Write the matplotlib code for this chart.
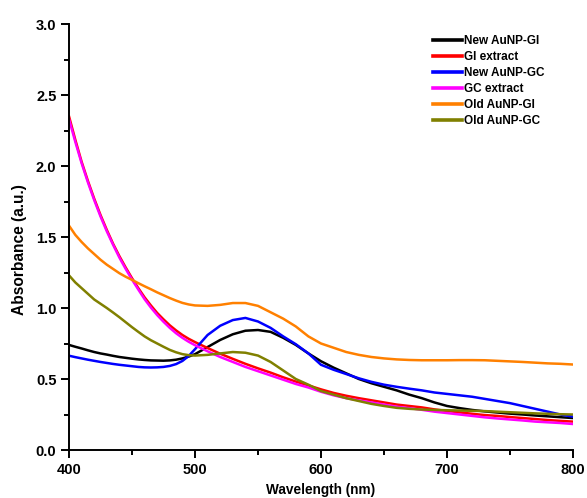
import matplotlib
matplotlib.use("Agg")
import matplotlib.pyplot as plt
from matplotlib.ticker import MultipleLocator, FormatStrFormatter

plt.rcParams['font.family'] = ['Liberation Sans', 'DejaVu Sans']
plt.rcParams['font.weight'] = 'bold'

wavelength = [400, 405, 410, 415, 420, 425, 430, 435, 440, 445,
              450, 455, 460, 465, 470, 475, 480, 485, 490, 495,
              500, 510, 520, 530, 540, 550, 560, 570, 580, 590,
              600, 610, 620, 630, 640, 650, 660, 670, 680, 690,
              700, 710, 720, 730, 740, 750, 760, 770, 780, 790, 800]

new_aunp_gi = [0.74, 0.727, 0.715, 0.702, 0.69, 0.68, 0.672, 0.663, 0.655, 0.649,
               0.643, 0.638, 0.634, 0.631, 0.63, 0.629, 0.631, 0.636, 0.645, 0.658,
               0.675, 0.725, 0.775, 0.815, 0.84, 0.845, 0.832, 0.79, 0.74, 0.68,
               0.625, 0.58, 0.54, 0.50, 0.47, 0.445, 0.42, 0.39, 0.365, 0.335,
               0.31, 0.295, 0.282, 0.272, 0.264, 0.256, 0.25, 0.243, 0.237, 0.231, 0.225]

gi_extract = [2.35, 2.185, 2.03, 1.895, 1.77, 1.655, 1.55, 1.452, 1.365, 1.285,
              1.21, 1.14, 1.075, 1.018, 0.965, 0.92, 0.878, 0.842, 0.81, 0.783,
              0.76, 0.718, 0.678, 0.642, 0.607, 0.575, 0.545, 0.512, 0.482, 0.455,
              0.427, 0.402, 0.382, 0.365, 0.35, 0.335, 0.32, 0.31, 0.30, 0.286,
              0.275, 0.265, 0.255, 0.246, 0.24, 0.232, 0.225, 0.218, 0.211, 0.205, 0.20]

new_aunp_gc = [0.664, 0.654, 0.645, 0.636, 0.628, 0.62, 0.613, 0.606, 0.60, 0.595,
               0.59, 0.585, 0.582, 0.581, 0.582, 0.585, 0.592, 0.605, 0.627, 0.662,
               0.71, 0.81, 0.875, 0.915, 0.93, 0.905, 0.86, 0.80, 0.745, 0.68,
               0.60, 0.565, 0.535, 0.505, 0.48, 0.46, 0.445, 0.432, 0.42, 0.405,
               0.395, 0.385, 0.375, 0.36, 0.345, 0.33, 0.31, 0.29, 0.27, 0.25, 0.235]

gc_extract = [2.33, 2.17, 2.02, 1.885, 1.76, 1.645, 1.54, 1.445, 1.355, 1.275,
              1.20, 1.13, 1.062, 1.003, 0.95, 0.903, 0.86, 0.822, 0.79, 0.762,
              0.738, 0.695, 0.655, 0.62, 0.585, 0.555, 0.525, 0.495, 0.465, 0.44,
              0.41, 0.385, 0.365, 0.35, 0.335, 0.32, 0.305, 0.295, 0.283, 0.27,
              0.26, 0.25, 0.24, 0.23, 0.222, 0.215, 0.208, 0.20, 0.195, 0.19, 0.183]

old_aunp_gi = [1.58, 1.515, 1.465, 1.42, 1.38, 1.34, 1.305, 1.275, 1.245, 1.22,
               1.198, 1.175, 1.153, 1.132, 1.11, 1.09, 1.07, 1.052, 1.036, 1.025,
               1.018, 1.015, 1.022, 1.035, 1.035, 1.015, 0.97, 0.925, 0.87, 0.80,
               0.75, 0.72, 0.69, 0.67, 0.655, 0.645, 0.638, 0.634, 0.632, 0.632,
               0.632, 0.633, 0.633, 0.632, 0.628, 0.624, 0.62, 0.615, 0.61, 0.607, 0.602]

old_aunp_gc = [1.23, 1.18, 1.14, 1.10, 1.06, 1.03, 1.00, 0.968, 0.935, 0.90,
               0.865, 0.832, 0.80, 0.773, 0.75, 0.727, 0.705, 0.688, 0.675, 0.668,
               0.665, 0.67, 0.68, 0.69, 0.685, 0.665, 0.62, 0.56, 0.50, 0.46,
               0.415, 0.39, 0.365, 0.345, 0.325, 0.31, 0.297, 0.29, 0.285, 0.282,
               0.28, 0.278, 0.276, 0.274, 0.27, 0.266, 0.262, 0.258, 0.255, 0.252, 0.25]

series_labels = ['New AuNP-GI', 'GI extract', 'New AuNP-GC', 'GC extract',
                 'Old AuNP-GI', 'Old AuNP-GC']
series_colors = ['#000000', '#ff0000', '#0000ff', '#ff00ff', '#ff8000', '#808000']
series_values = [new_aunp_gi, gi_extract, new_aunp_gc, gc_extract,
                 old_aunp_gi, old_aunp_gc]

fig = plt.figure(figsize=(5.87, 4.98), dpi=100)
ax = fig.add_axes([69/587, 48/498, 504/587, 426/498])

for vals, lab, col in zip(series_values, series_labels, series_colors):
    ax.plot(wavelength, vals, color=col, lw=1.8, label=lab,
            solid_joinstyle='round')

ax.set_xlim(400, 800)
ax.set_ylim(0, 3.0)
ax.xaxis.set_major_locator(MultipleLocator(100))
ax.xaxis.set_minor_locator(MultipleLocator(50))
ax.yaxis.set_major_locator(MultipleLocator(0.5))
ax.yaxis.set_minor_locator(MultipleLocator(0.25))
ax.yaxis.set_major_formatter(FormatStrFormatter('%.1f'))

for s in ['top', 'right']:
    ax.spines[s].set_visible(False)
for s in ['left', 'bottom']:
    ax.spines[s].set_linewidth(1.4)

ax.tick_params(which='major', direction='out', length=6, width=1.4,
               labelsize=10.5, pad=3)
ax.tick_params(which='minor', direction='out', length=3.8, width=1.4)
for t in ax.get_xticklabels() + ax.get_yticklabels():
    t.set_fontweight('bold')

ax.set_xlabel('Wavelength (nm)', fontsize=9.8, fontweight='bold', labelpad=4.5)
ax.set_ylabel('Absorbance (a.u.)', fontsize=11.2, fontweight='bold')
ax.yaxis.set_label_coords(-0.083, 0.47)

leg = ax.legend(loc='upper left', bbox_to_anchor=(0.7216, 0.975),
                frameon=False, fontsize=8.5, handlelength=2.45,
                handletextpad=0.2, labelspacing=0.35, borderpad=0,
                borderaxespad=0)
for line in leg.get_lines():
    line.set_linewidth(2.6)
for t in leg.get_texts():
    t.set_fontweight('bold')

fig.savefig('out.png', dpi=100)
